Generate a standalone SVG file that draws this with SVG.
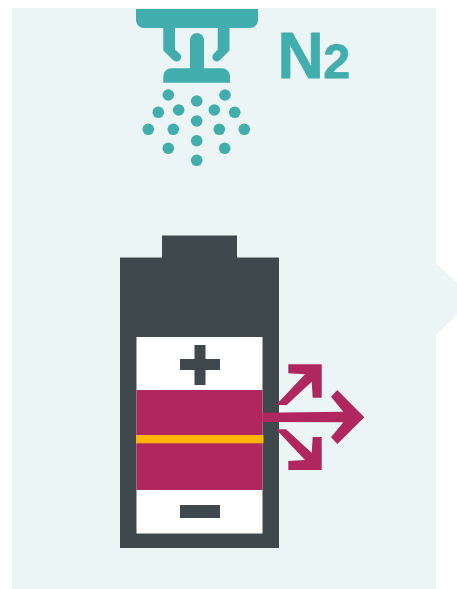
<svg xmlns="http://www.w3.org/2000/svg" width="457" height="589" viewBox="0 0 457 589">
<style>
.t{fill:#42adad}
.d{fill:#3f484d}
.m{fill:#b0265e}
.txt{font-family:"Liberation Sans",Arial,sans-serif;font-weight:700;fill:#42adad;stroke:#42adad;stroke-width:.8}
</style>
<rect width="457" height="589" fill="#fff"/>
<path id="panel" fill="#ecf5f6" d="M12 8H436V263L457 283V315L436 335V589H12Z"/>
<g id="sprinkler" class="t">
<path d="M136 9H258V20A8 8 0 0 1 250 28H144A8 8 0 0 1 136 20Z"/>
<path d="M163.300 28H175V49.500L180 54A4.200 4.200 0 0 1 173 60L163.300 50.500Z"/>
<path d="M229.500 28H217.700V49.500L213.500 54A4.200 4.200 0 0 0 220 60L229.500 50.500Z"/>
<path d="M190 68.300V40A7 7 0 0 1 204 40V68.300H222A8 8 0 0 1 230 76.300V82.700H163.300V76.300A8 8 0 0 1 171.300 68.300Z"/>
<circle cx="168.300" cy="95" r="5.800"/><circle cx="225" cy="95" r="5.800"/><circle cx="196.700" cy="101" r="5.800"/>
<circle cx="158.300" cy="112.300" r="5.800"/><circle cx="178.700" cy="110" r="5.800"/><circle cx="214.300" cy="110" r="5.800"/><circle cx="234.700" cy="112.300" r="5.800"/>
<circle cx="196.700" cy="121" r="5.800"/>
<circle cx="148.300" cy="129.300" r="5.800"/><circle cx="173.300" cy="129.300" r="5.800"/><circle cx="219.300" cy="129.300" r="5.800"/><circle cx="244.300" cy="129.300" r="5.800"/>
<circle cx="196.700" cy="140.700" r="5.800"/>
<circle cx="168.300" cy="148.300" r="5.800"/><circle cx="224.700" cy="148.300" r="5.800"/>
<circle cx="196.700" cy="160.300" r="5.800"/>
</g>
<text id="n2" class="txt" x="277.500" y="78" font-size="64">N<tspan font-size="48" dx="-0.500">2</tspan></text>
<g id="battery">
<path class="d" d="M162 235.500H237V257.500H279V548H120V257.500H162Z"/>
<rect x="136.500" y="337" width="126" height="196.500" fill="#fff"/>
<rect class="m" x="136.500" y="390" width="126" height="100"/>
<rect x="136" y="435" width="127.500" height="8.300" fill="#ffb500"/>
<path class="d" d="M194.500 345H205.500V359H220V370H205.500V385H194.500V370H180V359H194.500Z"/>
<rect class="d" x="180" y="505" width="40" height="13"/>
</g>
<g id="connectors" class="m">
<path d="M262.500 412.700L343.300 411.700L331 396.700L337.300 390L364.300 417.300L337.300 444L331 437.300L343.300 422.300L262.500 422Z"/>
<path d="M288.300 364.300H321.700V397.700H312.700L311.700 381.700L286.700 405H276L305 374.300L288.300 373.300Z"/>
<path d="M288.300 470H321.700V437H312.700L311.700 452.700L286 429.300H276L305 460L288.300 461Z"/>
</g>
</svg>
